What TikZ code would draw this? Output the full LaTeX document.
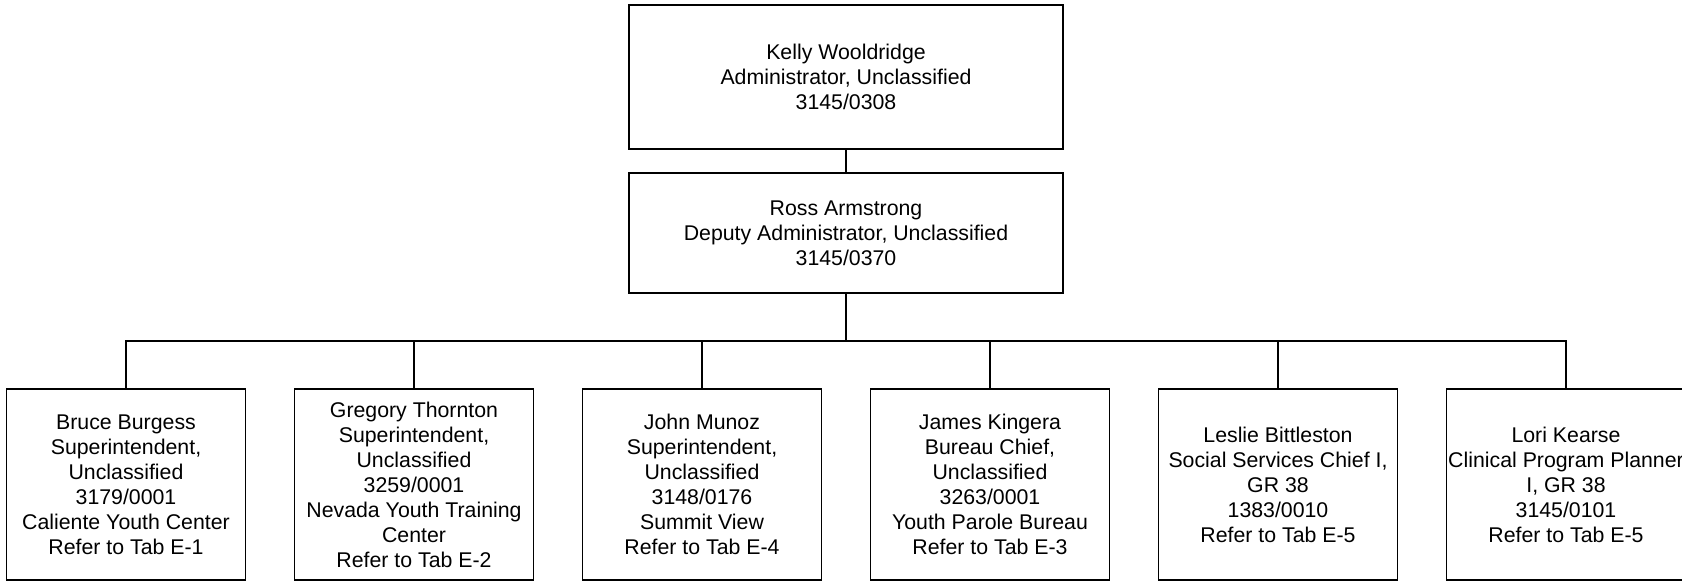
\documentclass[tikz,border=0pt]{standalone}
\usepackage{fontspec}
\setmainfont{Liberation Sans}
\usetikzlibrary{positioning}

\begin{document}
\begin{tikzpicture}[x=1pt, y=-1pt, line width=1.5pt, node distance=47.5pt,
    every node/.style={font=\fontsize{21.3}{25}\selectfont, align=center},
    head/.style={draw, rectangle, inner sep=0pt, minimum width=434pt},
    unit/.style={draw, rectangle, inner sep=0pt, minimum width=239pt, minimum height=191pt}
    ]
\useasboundingbox (0,0) rectangle (1682,581);
% administration
\node[head, minimum height=144pt] (admin) at (846,77)
  {Kelly Wooldridge\\Administrator, Unclassified\\3145/0308};
\node[head, minimum height=120pt] (deputy) at (846,233)
  {Ross Armstrong\\Deputy Administrator, Unclassified\\3145/0370};
% units
\node[unit] (u1) at (126,484.5)
  {Bruce Burgess\\Superintendent,\\Unclassified\\3179/0001\\Caliente Youth Center\\Refer to Tab E-1};
\node[unit, right=of u1] (u2)
  {Gregory Thornton\\Superintendent,\\Unclassified\\3259/0001\\Nevada Youth Training\\Center\\Refer to Tab E-2};
\node[unit, right=of u2] (u3)
  {John Munoz\\Superintendent,\\Unclassified\\3148/0176\\Summit View\\Refer to Tab E-4};
\node[unit, right=of u3] (u4)
  {James Kingera\\Bureau Chief,\\Unclassified\\3263/0001\\Youth Parole Bureau\\Refer to Tab E-3};
\node[unit, right=of u4] (u5)
  {Leslie Bittleston\\Social Services Chief I,\\GR 38\\1383/0010\\Refer to Tab E-5};
\node[unit, right=of u5] (u6)
  {Lori Kearse\\Clinical Program Planner\\I, GR 38\\3145/0101\\Refer to Tab E-5};
\coordinate (bus) at (846,341);
\draw (admin) -- (deputy);
\draw (deputy.south) -- (bus);
\foreach \u in {u1,u2,u3,u4,u5,u6}
  \draw (bus) -| (\u.north);
\end{tikzpicture}
\end{document}
